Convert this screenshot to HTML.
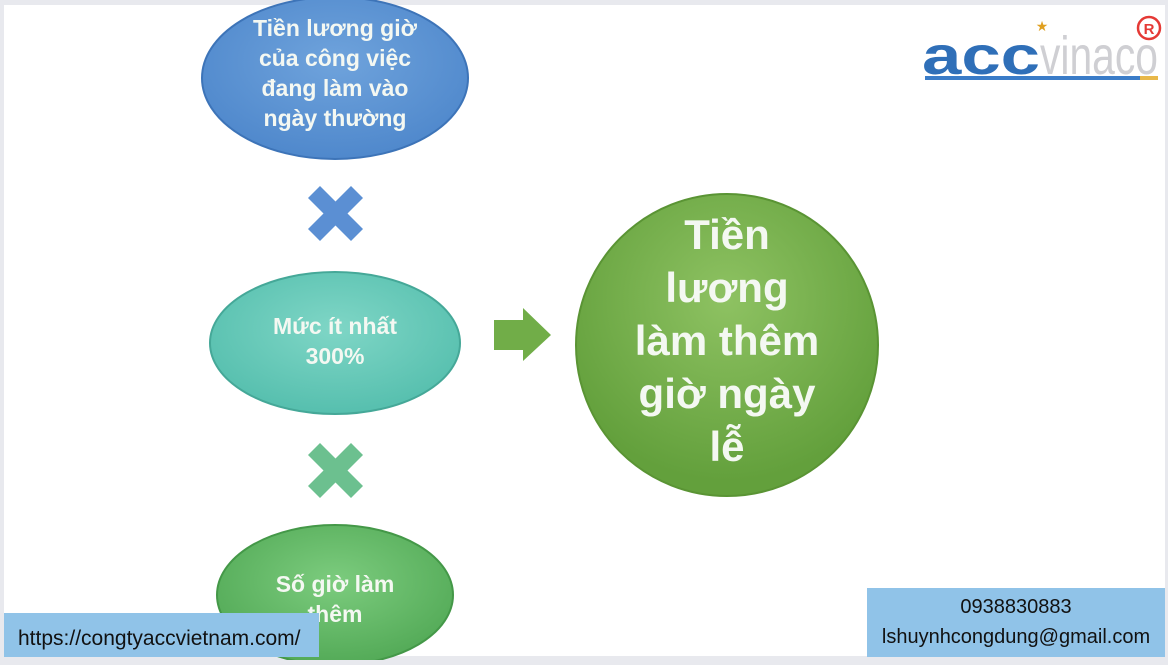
<!DOCTYPE html>
<html><head><meta charset="utf-8"><style>
html,body{margin:0;padding:0;width:1168px;height:660px;overflow:hidden;background:#e8e9ee;}
#c{position:absolute;left:4px;top:5px;width:1161px;height:651px;background:#fff;overflow:hidden;}
svg{position:absolute;left:0;top:0}
.t{font-family:"Liberation Sans",sans-serif;font-weight:bold;fill:#f4f8f2;text-anchor:middle}
.box{position:absolute;background:#90c3e8;font-family:"Liberation Sans",sans-serif;color:#111;font-size:20px}
</style></head><body>
<div id="c"></div>
<svg width="1168" height="660" viewBox="0 0 1168 660">
<defs>
<radialGradient id="gb" cx="50%" cy="40%" r="60%"><stop offset="0" stop-color="#6fa3dc"/><stop offset="1" stop-color="#4f88cc"/></radialGradient>
<radialGradient id="gc" cx="50%" cy="40%" r="60%"><stop offset="0" stop-color="#7fd6c6"/><stop offset="1" stop-color="#56bfae"/></radialGradient>
<radialGradient id="gg" cx="50%" cy="40%" r="60%"><stop offset="0" stop-color="#7ccc7e"/><stop offset="1" stop-color="#53aa57"/></radialGradient>
<radialGradient id="gl" cx="50%" cy="35%" r="60%"><stop offset="0" stop-color="#8ec262"/><stop offset="1" stop-color="#63a03c"/></radialGradient>
</defs>
<ellipse cx="335" cy="78" rx="133" ry="81" fill="url(#gb)" stroke="#3d74b8" stroke-width="2"/>
<ellipse cx="335" cy="343" rx="125" ry="71" fill="url(#gc)" stroke="#45a898" stroke-width="2"/>
<ellipse cx="335" cy="595" rx="118" ry="70" fill="url(#gg)" stroke="#449848" stroke-width="2"/>
<circle cx="727" cy="345" r="151" fill="url(#gl)" stroke="#5a9434" stroke-width="2"/>
<g stroke="#5b8fd3" stroke-width="17"><line x1="314" y1="192" x2="357" y2="235"/><line x1="357" y1="192" x2="314" y2="235"/></g>
<g stroke="#6cc08f" stroke-width="17"><line x1="314" y1="449" x2="357" y2="492"/><line x1="357" y1="449" x2="314" y2="492"/></g>
<polygon points="494,320 523,320 523,308 551,335 523,361 523,350 494,350" fill="#71ad48"/>
<g class="t" font-size="23">
<text x="335" y="36">Tiền lương giờ</text>
<text x="335" y="66">của công việc</text>
<text x="335" y="96">đang làm vào</text>
<text x="335" y="126">ngày thường</text>
<text x="335" y="334">Mức ít nhất</text>
<text x="335" y="364">300%</text>
<text x="335" y="592">Số giờ làm</text>
<text x="335" y="622">thêm</text>
</g>
<g class="t" font-size="42">
<text x="727" y="249">Tiền</text>
<text x="727" y="302">lương</text>
<text x="727" y="355">làm thêm</text>
<text x="727" y="408">giờ ngày</text>
<text x="727" y="461">lễ</text>
</g>
<g font-family="Liberation Sans,sans-serif" font-size="54" font-weight="bold">
<text x="922" y="74" fill="#2f6fb8" textLength="118" lengthAdjust="spacingAndGlyphs">acc</text>
<text x="1040" y="74" fill="#cfcfd3" font-weight="normal" textLength="118" lengthAdjust="spacingAndGlyphs">vinaco</text>
</g>
<text x="1042" y="31" fill="#e0a020" font-size="14" font-family="DejaVu Sans,sans-serif" text-anchor="middle">★</text>
<circle cx="1149" cy="28" r="11" fill="none" stroke="#e53935" stroke-width="2.5"/>
<text x="1149" y="34" fill="#e53935" font-size="15" font-weight="bold" font-family="Liberation Sans,sans-serif" text-anchor="middle">R</text>
<rect x="925" y="76" width="215" height="4" fill="#3a7cc8"/>
<rect x="1140" y="76" width="18" height="4" fill="#e8b84a"/>
</svg>
<div class="box" style="left:4px;top:613px;width:315px;height:44px;line-height:52px;padding-left:14px;box-sizing:border-box;font-size:21px">https://congtyaccvietnam.com/</div>
<div class="box" style="left:867px;top:588px;width:298px;height:69px;text-align:center;line-height:30px;padding-top:4px;box-sizing:border-box">0938830883<br>lshuynhcongdung@gmail.com</div>
</body></html>
